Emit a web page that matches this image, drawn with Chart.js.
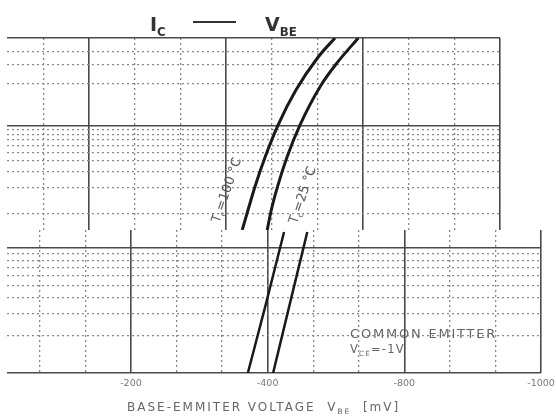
<!DOCTYPE html>
<html lang="en">
<head>
<meta charset="utf-8">
<title>Ic - VBE</title>
<script src="https://cdn.jsdelivr.net/npm/chart.js@4.4.1/dist/chart.umd.min.js"></script>
<style>
    html, body { margin: 0; padding: 0; background: #fff; }
    #grafico { position: relative; width: 556px; height: 419px; overflow: hidden; font-family: "DejaVu Sans", sans-serif; }
    canvas { position: absolute; left: 0; }
    #canvas-superior { top: 30px; }
    #canvas-inferior { top: 222px; }
    .txt { position: absolute; white-space: nowrap; line-height: 1; }
    .txt sub { font-size: 62%; vertical-align: -0.4em; line-height: 0; }
    .rot { transform: translate(-50%, -50%) rotate(-71deg); }
</style>
</head>
<body>
<div id="grafico">
    <canvas id="canvas-superior" width="556" height="200"></canvas>
    <canvas id="canvas-inferior" width="556" height="173"></canvas>

    <!-- titulo -->
    <div class="txt" style="left:150px; top:15px; font-size:19px; font-weight:bold; color:#333;">I<sub>C</sub></div>
    <div style="position:absolute; left:193px; top:21px; width:43px; height:2px; background:#333;"></div>
    <div class="txt" style="left:265px; top:15px; font-size:19px; font-weight:bold; color:#333;">V<sub>BE</sub></div>

    <!-- rotulos das curvas -->
    <div class="txt rot" style="left:226px; top:190px; font-size:13px; color:#555;">T<sub>c</sub>=100 °C</div>
    <div class="txt rot" style="left:302px; top:195px; font-size:13px; color:#555;">T<sub>c</sub>=25 °C</div>

    <!-- condicoes -->
    <div class="txt" style="left:350px; top:327px; font-size:13px; letter-spacing:1.8px; color:#666;">COMMON EMITTER</div>
    <div class="txt" style="left:350px; top:344px; font-size:11.5px; letter-spacing:1.2px; color:#666;">V<sub>CE</sub>=-1V</div>

    <!-- titulo do eixo x -->
    <div class="txt" style="left:127px; top:401px; font-size:12px; letter-spacing:2px; color:#666;">BASE-EMMITER VOLTAGE&nbsp;&nbsp;V<sub>BE</sub>&nbsp;&nbsp;[mV]</div>
</div>

<script>
// - - - - - - - - - - Dados Ic x VBE - - - - - - - - - -

// painel superior (Ic em mA, VBE em mV)
const vbe_sup_100 = [-423.5, -432, -442, -457, -476, -502, -534.5, -559];
const ic_sup_100 = [0.658, 1.11, 2.03, 4.44, 10.3, 25.6, 60.8, 100];
const vbe_sup_25 = [-460, -466, -475, -489, -508, -537, -562, -593];
const ic_sup_25 = [0.658, 1.11, 2.03, 4.44, 10.3, 27.8, 52.1, 100];

// painel inferior
const vbe_inf_100 = [-371, -397, -424];
const ic_inf_100 = [0.1, 0.35, 1.35];
const vbe_inf_25 = [-408, -432, -458];
const ic_inf_25 = [0.1, 0.35, 1.35];

// eixo x
const x_principais = [-200, -400, -600, -800];
const x_secundarios = [-66.67, -133.33, -266.67, -333.33, -466.67, -533.33, -666.67, -733.33];
const x_rotulos = ['-200', '-400', '-800', '-1000'];

// linhas horizontais (escala log)
const y_sup_principais = [10, 100];
const y_sup_secundarios = [1, 2, 3, 4, 5, 6, 7, 8, 9, 30, 50, 70];
const y_inf_principais = [0.1, 1];
const y_inf_secundarios = [0.2, 0.3, 0.4, 0.5, 0.6, 0.7, 0.8, 0.9];


// - - - - - - - - - - Funcoes auxiliares - - - - - - - - - -

function pontos(xs, ys) {
    return xs.map((v, i) => ({ x: v, y: ys[i] }));
}

function eh_principal(ctx, principais) {
    if (!ctx.tick) return true;
    return principais.some(p => Math.abs(p - ctx.tick.value) < 1e-6);
}

// troca os ticks automaticos pelas linhas da grade
function usar_ticks(principais, secundarios) {
    return function(scale) {
        const todos = principais.concat(secundarios)
            .filter(v => v >= scale.min - 1e-9 && v <= scale.max + 1e-9);
        scale.ticks = todos.map(v => ({ value: v }));
    };
}

function grade(principais) {
    return {
        drawTicks: false,
        color: ctx => eh_principal(ctx, principais) ? '#4a4a4a' : '#888',
        lineWidth: ctx => eh_principal(ctx, principais) ? 1.6 : 1.3
    };
}

function borda(principais) {
    return {
        display: false,
        dash: ctx => eh_principal(ctx, principais) ? [] : [2, 3]
    };
}

function curva(dados, largura) {
    return {
        data: dados,
        showLine: true,
        borderColor: '#1a1a1a',
        borderWidth: largura,
        pointRadius: 0,
        cubicInterpolationMode: 'monotone',
        fill: false
    };
}


// - - - - - - - - - - Painel superior - - - - - - - - - -

const ctx_superior = document.getElementById('canvas-superior').getContext('2d');

const grafico_superior = new Chart(ctx_superior, {
    type: 'scatter',
    data: {
        datasets: [
            curva(pontos(vbe_sup_100, ic_sup_100), 3),
            curva(pontos(vbe_sup_25, ic_sup_25), 3)
        ]
    },
    options: {
        responsive: false,
        animation: false,
        layout: { autoPadding: false, padding: { left: 7, right: 56, top: 8, bottom: 0 } },
        scales: {
            x: {
                type: 'linear',
                reverse: true,
                min: -800,
                max: -80,
                afterBuildTicks: usar_ticks(x_principais, x_secundarios),
                afterFit: s => { s.height = 0; },
                ticks: { display: false },
                grid: grade(x_principais),
                border: borda(x_principais)
            },
            y: {
                type: 'logarithmic',
                min: 0.658,
                max: 100,
                afterBuildTicks: usar_ticks(y_sup_principais, y_sup_secundarios),
                afterFit: s => { s.width = 0; },
                ticks: { display: false },
                grid: grade(y_sup_principais),
                border: borda(y_sup_principais)
            }
        },
        plugins: {
            legend: { display: false },
            tooltip: { enabled: false }
        }
    }
});


// - - - - - - - - - - Painel inferior - - - - - - - - - -

const ctx_inferior = document.getElementById('canvas-inferior').getContext('2d');

const grafico_inferior = new Chart(ctx_inferior, {
    type: 'scatter',
    data: {
        datasets: [
            curva(pontos(vbe_inf_100, ic_inf_100), 2.5),
            curva(pontos(vbe_inf_25, ic_inf_25), 2.5)
        ]
    },
    options: {
        responsive: false,
        animation: false,
        layout: { autoPadding: false, padding: { left: 7, right: 15, top: 8, bottom: 0 } },
        scales: {
            x: {
                type: 'linear',
                reverse: true,
                min: -800,
                max: -18.6,
                afterBuildTicks: usar_ticks(x_principais, x_secundarios),
                afterFit: s => { s.height = 22; },
                ticks: {
                    display: true,
                    autoSkip: false,
                    maxRotation: 0,
                    padding: 5,
                    color: '#777',
                    font: { family: 'DejaVu Sans', size: 9.5 },
                    callback: function(value) {
                        const i = x_principais.indexOf(value);
                        return i >= 0 ? x_rotulos[i] : '';
                    }
                },
                grid: grade(x_principais),
                border: borda(x_principais)
            },
            y: {
                type: 'logarithmic',
                min: 0.1,
                max: 1.4,
                afterBuildTicks: usar_ticks(y_inf_principais, y_inf_secundarios),
                afterFit: s => { s.width = 0; },
                ticks: { display: false },
                grid: grade(y_inf_principais),
                border: borda(y_inf_principais)
            }
        },
        plugins: {
            legend: { display: false },
            tooltip: { enabled: false }
        }
    }
});
</script>
</body>
</html>
